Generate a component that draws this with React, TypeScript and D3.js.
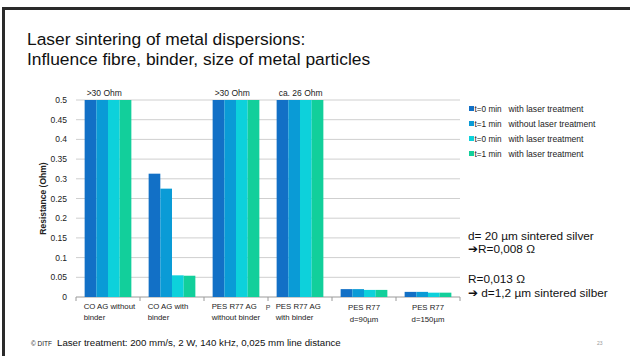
import React from "react";
import * as d3 from "d3";

const categories = [
  ["CO AG without", "binder"],
  ["CO AG with", "binder"],
  ["PES R77 AG", "without binder"],
  ["PES R77 AG", "with binder"],
  ["PES R77", "d=90µm"],
  ["PES R77", "d=150µm"],
];
const seriesNames = ["t=0 min", "t=1 min", "t=0 min", "t=1 min"];
const seriesNotes = ["with laser treatment", "without laser treatment", "with laser treatment", "with laser treatment"];
const seriesColors = ["#1270C6", "#0A9BD6", "#0DD1DB", "#12CF9B"];
// values per category, per series (Ohm)
const values = [
  [30, 30, 30, 30],
  [0.313, 0.275, 0.055, 0.054],
  [30, 30, 30, 30],
  [26, 26, 26, 26],
  [0.02, 0.02, 0.018, 0.018],
  [0.013, 0.013, 0.011, 0.011],
];
const topLabels = [">30 Ohm", "", ">30 Ohm", "ca. 26 Ohm", "", ""];
const yTicks = [0, 0.05, 0.1, 0.15, 0.2, 0.25, 0.3, 0.35, 0.4, 0.45, 0.5];

const FONT = "Liberation Sans, Arial, sans-serif";

export default function App() {
  const W = 630, H = 356;
  const left = 76, right = 460, top = 100, bottom = 297;
  const x0 = d3.scaleBand<number>().domain(categories.map((_, i) => i)).range([left, right]).paddingInner(0.27).paddingOuter(0.135);
  const x1 = d3.scaleBand<number>().domain(seriesNames.map((_, i) => i)).range([0, x0.bandwidth()]);
  const y = d3.scaleLinear().domain([0, 0.5]).range([bottom, top]).clamp(true);
  const step = x0.step();

  return (
    <svg width={W} height={H} style={{ position: "absolute", left: 0, top: 0, background: "#fff" }} fontFamily={FONT}>
      <rect x={0} y={0} width={W} height={H} fill="#fff" />
      {/* slide border */}
      <line x1={2} y1={8.5} x2={W} y2={8.5} stroke="#2a2a2a" strokeWidth={3} />
      <line x1={3.5} y1={7} x2={3.5} y2={H} stroke="#2a2a2a" strokeWidth={3} />

      <text x={27} y={45} fontSize={17.4} fill="#111">Laser sintering of metal dispersions:</text>
      <text x={27} y={64.5} fontSize={17.4} fill="#111">Influence fibre, binder, size of metal particles</text>

      {/* gridlines */}
      {yTicks.map((t) => (
        <line key={"g" + t} x1={left} x2={right} y1={y(t)} y2={y(t)} stroke={t === 0 ? "#9a9a9a" : "#cfcfcf"} strokeWidth={1} />
      ))}
      {yTicks.map((t) => (
        <text key={"yt" + t} x={67} y={y(t) + 3} fontSize={8.5} textAnchor="end" fill="#222">{String(t)}</text>
      ))}
      <text transform={`translate(45.5,${(top + bottom) / 2}) rotate(-90)`} fontSize={8.5} fontWeight="bold" textAnchor="middle" fill="#222">Resistance (Ohm)</text>

      {/* x tick marks */}
      {d3.range(categories.length + 1).map((i) => (
        <line key={"xt" + i} x1={left + i * step} x2={left + i * step} y1={bottom} y2={bottom + 4} stroke="#9a9a9a" />
      ))}

      {/* bars */}
      {values.map((vals, ci) => (
        <g key={"c" + ci} transform={`translate(${x0(ci)},0)`}>
          {vals.map((v, si) => (
            <rect key={si} x={x1(si)} y={y(v)} width={x1.bandwidth()} height={bottom - y(v)} fill={seriesColors[si]} />
          ))}
        </g>
      ))}

      {/* top labels */}
      {topLabels.map((t, ci) =>
        t ? (
          <text key={"tl" + ci} x={(x0(ci) as number) + 2} y={96} fontSize={8.5} fill="#222">{t}</text>
        ) : null
      )}

      {/* category labels */}
      {categories.map((lines, ci) => {
        const centered = ci >= 4;
        const cx = centered ? (x0(ci) as number) + x0.bandwidth() / 2 : (x0(ci) as number) - 1;
        const by = centered ? 310 : 309;
        return (
          <text key={"cl" + ci} fontSize={7.8} textAnchor={centered ? "middle" : "start"} fill="#222">
            {lines.map((l, li) => (
              <tspan key={li} x={cx} y={by + li * (centered ? 12 : 10.5)}>{l}</tspan>
            ))}
          </text>
        );
      })}
      <text x={268} y={310} fontSize={7} textAnchor="middle" fill="#444">P</text>

      {/* legend */}
      {seriesNames.map((n, i) => (
        <g key={"lg" + i} transform={`translate(469,${108.5 + i * 15})`}>
          <rect x={0} y={-2.5} width={5} height={5} fill={seriesColors[i]} />
          <text x={5.5} y={3} fontSize={8.2} fill="#222">{n}</text>
          <text x={39.5} y={3.3} fontSize={8.6} fill="#222">{seriesNotes[i]}</text>
        </g>
      ))}

      {/* annotations */}
      <text x={468} y={240} fontSize={11.8} fill="#111">d= 20 µm sintered silver</text>
      <text x={468} y={253} fontSize={11.8} fill="#111">➔R=0,008 Ω</text>
      <text x={468} y={283} fontSize={11.8} fill="#111">R=0,013 Ω</text>
      <text x={468} y={296.5} fontSize={11.8} fill="#111">➔ d=1,2 µm sintered silber</text>

      {/* footer */}
      <text x={31} y={346} fontSize={6.5} fill="#222">© DITF</text>
      <text x={57} y={346} fontSize={9.7} fill="#111">Laser treatment: 200 mm/s, 2 W, 140 kHz, 0,025 mm line distance</text>
      <text x={597} y={345} fontSize={5} fill="#999">23</text>
    </svg>
  );
}
